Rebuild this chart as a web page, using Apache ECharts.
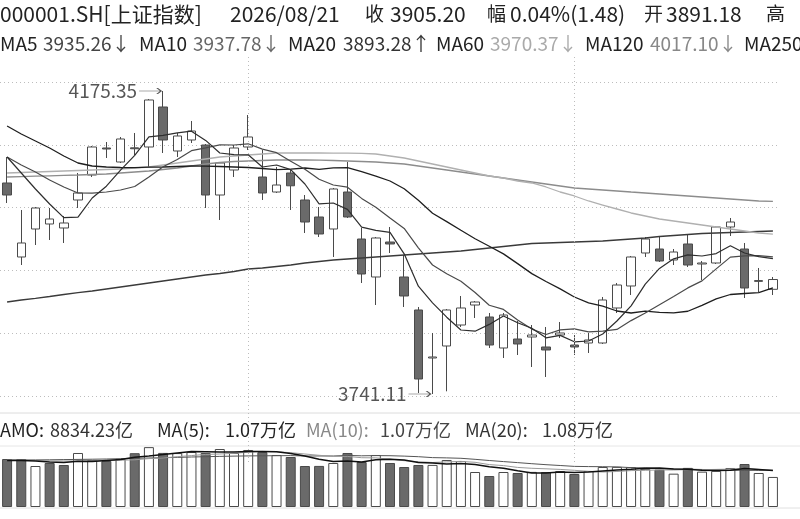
<!DOCTYPE html>
<html>
<head>
<meta charset="utf-8">
<script src="https://cdn.jsdelivr.net/npm/echarts@6/dist/echarts.min.js"></script>
<style>
html,body{margin:0;padding:0;background:#fff;}
#main{width:800px;height:519px;}
</style>
</head>
<body>
<div id="main"></div>
<script>
// 交易日
var dates = ['2026/06/05','2026/06/08','2026/06/09','2026/06/10','2026/06/11','2026/06/12','2026/06/15','2026/06/16','2026/06/17','2026/06/18',
    '2026/06/22','2026/06/23','2026/06/24','2026/06/25','2026/06/26','2026/06/29','2026/06/30','2026/07/01','2026/07/02','2026/07/03',
    '2026/07/06','2026/07/07','2026/07/08','2026/07/09','2026/07/10','2026/07/13','2026/07/14','2026/07/15','2026/07/16','2026/07/17',
    '2026/07/20','2026/07/21','2026/07/22','2026/07/23','2026/07/24','2026/07/27','2026/07/28','2026/07/29','2026/07/30','2026/07/31',
    '2026/08/03','2026/08/04','2026/08/05','2026/08/06','2026/08/07','2026/08/10','2026/08/11','2026/08/12','2026/08/13','2026/08/14',
    '2026/08/17','2026/08/18','2026/08/19','2026/08/20','2026/08/21'];

var opens = [4043.51,3937.47,3977.59,3984.76,3979.03,4019.15,4054.97,4093.67,4073.60,4093.90,
    4095.10,4152.42,4089.37,4105.13,4097.96,4026.31,4062.14,4095.10,4052.11,4030.61,
    4057.84,4019.15,3994.79,3977.59,4030.61,3963.26,3908.81,3958.96,3908.81,3861.52,
    3792.74,3809.93,3840.02,3868.68,3851.49,3807.07,3819.96,3822.83,3808.50,3825.69,
    3811.36,3814.23,3814.23,3864.39,3895.91,3943.20,3948.93,3933.17,3956.10,3927.44,
    3928.87,3980.46,3948.93,3902.50,3891.18];
var closes = [4026.31,3957.53,4007.69,3991.92,3986.19,4029.18,4095.10,4092.23,4106.56,4092.60,
    4162.45,4105.13,4110.86,4118.03,4026.31,4072.17,4093.67,4109.43,4029.18,4040.64,
    4039.50,3987.62,3970.43,4034.91,3994.79,3913.11,3964.70,3956.10,3881.58,3762.64,
    3794.17,3861.52,3864.39,3872.98,3811.36,3854.35,3812.80,3825.69,3804.20,3828.56,
    3808.50,3818.53,3875.85,3897.34,3937.47,3963.26,3931.74,3944.63,3926.00,3928.87,
    3980.46,3987.62,3893.05,3903.72,3905.20];
var lows = [4014.85,3926.00,3954.66,3961.83,3957.53,4007.69,4052.11,4079.34,4072.17,4083.63,
    4066.44,4086.50,4080.77,4100.83,4007.69,3990.49,4052.11,4090.80,4019.15,4029.18,
    4004.82,3971.86,3966.13,3937.47,3993.36,3900.21,3868.68,3943.20,3865.82,3742.58,
    3741.11,3745.00,3837.16,3850.06,3807.07,3792.74,3797.03,3779.84,3765.51,3821.40,
    3797.03,3799.90,3812.80,3857.22,3883.01,3937.47,3930.30,3926.00,3923.14,3904.51,
    3927.44,3967.56,3878.72,3887.31,3883.01];
var highs = [4080.77,4004.82,4009.12,4007.69,3996.22,4057.84,4096.53,4102.26,4109.43,4115.16,
    4163.88,4175.35,4115.16,4132.36,4099.40,4073.60,4097.96,4140.95,4090.80,4066.44,
    4062.14,4026.31,4009.12,4036.35,4073.60,3979.03,3966.13,3980.46,3940.33,3865.82,
    3828.56,3862.95,3881.58,3874.42,3857.22,3857.22,3845.76,3840.02,3837.16,3844.32,
    3825.69,3828.56,3880.15,3900.21,3938.90,3966.13,3966.13,3948.93,3968.99,3931.74,
    3981.20,3993.36,3957.53,3921.71,3908.81];

// 均线
var ma5 = [4080.77,4057.84,4034.91,4013.42,3993.93,3994.50,4022.02,4038.93,4061.85,4083.06,
    4109.72,4111.72,4115.45,4117.74,4104.56,4086.50,4084.21,4083.92,4066.44,4069.30,
    4062.71,4042.08,4013.70,4014.85,4005.68,3980.17,3975.59,3972.72,3942.05,3895.63,
    3871.84,3851.20,3832.86,3831.14,3840.88,3852.92,3843.18,3835.44,3821.68,3825.12,
    3815.95,3817.10,3827.13,3845.76,3867.54,3898.49,3921.13,3934.89,3940.62,3938.90,
    3942.34,3953.52,3943.20,3938.04,3935.26];
var ma10 = [4080.77,4069.30,4059.27,4047.81,4037.78,4029.18,4029.00,4030.61,4033.48,4038.50,
    4052.11,4066.87,4077.19,4089.80,4093.81,4098.11,4097.96,4099.68,4092.09,4086.93,
    4074.61,4063.14,4048.81,4040.64,4037.49,4021.44,4008.83,3993.21,3978.45,3950.65,
    3926.00,3913.39,3902.79,3886.60,3868.26,3862.38,3847.19,3834.15,3826.41,3833.00,
    3834.44,3830.14,3831.28,3833.72,3846.33,3857.22,3869.11,3881.01,3893.19,3903.22,
    3920.42,3937.33,3939.05,3939.33,3937.78];
var ma20 = [4125.19,4113.73,4103.70,4093.67,4082.20,4072.17,4067.87,4066.44,4065.72,4065.50,
    4066.30,4066.44,4067.16,4067.87,4067.60,4067.16,4066.44,4065.72,4064.29,4062.71,
    4063.29,4065.01,4063.00,4065.15,4065.58,4059.70,4053.40,4046.38,4035.20,4018.72,
    4000.23,3988.20,3975.73,3963.55,3952.80,3941.91,3928.01,3913.68,3902.36,3891.76,
    3880.15,3871.69,3866.97,3860.09,3857.22,3859.80,3858.08,3857.51,3859.70,3868.11,
    3877.43,3883.73,3885.16,3886.45,3893.28];
var ma60 = [4057.84,4058.56,4059.27,4059.99,4060.71,4061.42,4062.14,4062.86,4063.57,4065.01,
    4066.44,4069.30,4072.17,4075.04,4077.90,4080.77,4082.20,4083.63,4085.07,4086.50,
    4086.50,4086.60,4086.50,4086.40,4086.30,4086.10,4085.07,4082.20,4079.34,4075.04,
    4070.74,4066.44,4062.14,4057.84,4053.54,4050.68,4046.38,4043.51,4037.78,4030.61,
    4024.88,4017.72,4011.98,4006.25,4000.52,3996.22,3991.92,3989.06,3986.19,3983.32,
    3980.46,3977.59,3974.73,3971.86,3970.37];
var ma120 = [4052.11,4052.68,4053.26,4053.83,4054.40,4054.97,4055.69,4056.41,4057.84,4059.27,
    4060.71,4062.86,4065.01,4067.87,4070.74,4072.89,4074.32,4075.04,4075.75,4076.47,
    4076.47,4076.50,4076.40,4075.75,4075.04,4074.32,4073.60,4072.17,4070.74,4067.87,
    4065.01,4062.14,4059.27,4056.41,4053.54,4050.68,4047.81,4044.94,4042.08,4039.21,
    4036.35,4034.91,4033.48,4032.05,4030.61,4029.18,4027.75,4026.31,4024.88,4023.45,
    4022.02,4020.58,4019.15,4017.72,4017.10];
var ma250 = [3872.98,3875.85,3878.29,3880.87,3883.73,3886.31,3888.75,3891.61,3894.48,3897.34,
    3900.21,3903.08,3905.94,3908.81,3911.67,3913.82,3916.69,3920.27,3921.71,3923.86,
    3926.00,3928.87,3931.02,3933.17,3934.60,3936.04,3937.47,3938.90,3940.33,3941.77,
    3943.20,3944.63,3946.07,3948.22,3950.37,3952.52,3954.66,3956.81,3957.53,3958.25,
    3958.96,3959.68,3960.40,3961.83,3963.26,3964.70,3966.85,3968.28,3969.71,3971.14,
    3971.86,3972.58,3973.29,3974.01,3974.73];

// 成交额(亿)
var amo = [14110,14080,12050,12940,12350,15880,13820,13520,14150,15820,
    17600,15900,15850,16170,15880,17050,15870,16760,16170,15290,
    14700,12050,12080,12940,15880,13230,15290,12940,11760,12350,
    12380,13820,13520,10290,9110,10290,10000,10320,10260,10580,
    9700,10600,11760,11800,11720,11200,11000,9800,11500,10400,
    10620,11470,12640,10000,8834.23];
var amoMa5 = [13670,13650,13520,13230,13110,13470,13410,13700,13940,14640,
    14990,15410,15880,16290,16280,16170,16160,16350,16340,16230,
    15760,14990,14050,13410,13520,13230,13880,14050,13820,13110,
    12940,12640,12760,12470,11820,11410,10640,10000,9990,10290,
    10170,10280,10580,10880,11110,11410,11500,11140,11080,10820,
    10700,10790,11320,11030,10710];
var amoMa10 = [13820,13760,13670,13580,13520,13530,13580,13670,13760,13880,
    14230,14410,14790,15110,15460,15580,15790,16110,16320,16260,
    15960,15580,15200,14880,14870,14490,14440,14050,13610,13320,
    13080,13260,13410,13140,12470,12170,11640,11380,11230,11050,
    10790,10470,10290,10440,10700,10790,10910,10880,11000,10970,
    11050,11140,11230,11050,10730];
var amoMa20 = [13820,13830,13840,13880,13940,13990,14050,14110,14200,14290,
    14410,14490,14580,14700,14790,14880,14960,15020,15050,15080,
    15110,14990,15000,14990,15170,15050,15110,15080,14960,14790,
    14520,14440,14320,14020,13670,13350,13050,12730,12440,12200,
    11940,11880,11850,11790,11580,11500,11290,11140,11110,11030,
    10940,10820,10760,10770,10800];

var monthStarts = ['2026/07/01','2026/08/03'];

var FONT = '"Noto Sans CJK SC","Noto Sans",sans-serif';

function arrow(list){
    var n = list.length;
    return list[n-1] >= list[n-2] ? '↑' : '↓';
}

function txt(x, y, s, color, size){
    return {type:'text', x:x, y:y, z:100,
        style:{text:s, fill:color, font:size + 'px ' + FONT, verticalAlign:'middle'}};
}

var n = closes.length;
var lastClose = closes[n-1], prevClose = closes[n-2];
var chg = lastClose - prevClose;
var pct = chg / prevClose * 100;

var header = [
    txt(0, 14, '000001.SH[上证指数]', '#222', 21),
    txt(230, 14, dates[n-1], '#222', 21),
    txt(365, 14, '收', '#222', 19),
    txt(390, 14, lastClose.toFixed(2), '#222', 21),
    txt(487, 14, '幅', '#222', 19),
    txt(510, 14, pct.toFixed(2) + '%(' + chg.toFixed(2) + ')', '#222', 21),
    txt(644, 14, '开', '#222', 19),
    txt(666, 14, opens[n-1].toFixed(2), '#222', 21),
    txt(766, 14, '高', '#222', 19),
    txt(806, 14, highs[n-1].toFixed(2), '#222', 21),

    txt(0, 44, 'MA5', '#222', 19),
    txt(43, 44, ma5[n-1].toFixed(2) + arrow(ma5), '#444', 19),
    txt(139, 44, 'MA10', '#222', 19),
    txt(193, 44, ma10[n-1].toFixed(2) + arrow(ma10), '#666', 19),
    txt(288, 44, 'MA20', '#222', 19),
    txt(343, 44, ma20[n-1].toFixed(2) + arrow(ma20), '#333', 19),
    txt(436, 44, 'MA60', '#222', 19),
    txt(490, 44, ma60[n-1].toFixed(2) + arrow(ma60), '#aaa', 19),
    txt(585, 44, 'MA120', '#222', 19),
    txt(650, 44, ma120[n-1].toFixed(2) + arrow(ma120), '#888', 19),
    txt(744, 44, 'MA250', '#222', 19),
    txt(810, 44, ma250[n-1].toFixed(2) + arrow(ma250), '#444', 19),

    txt(0, 430, 'AMO:', '#222', 18),
    txt(50, 430, amo[n-1].toFixed(2) + '亿', '#333', 18),
    txt(157, 430, 'MA(5):', '#222', 18),
    txt(225, 430, (amoMa5[n-1] / 10000).toFixed(2) + '万亿', '#222', 18),
    txt(306, 430, 'MA(10):', '#888', 18),
    txt(380, 430, (amoMa10[n-1] / 10000).toFixed(2) + '万亿', '#444', 18),
    txt(465, 430, 'MA(20):', '#333', 18),
    txt(542, 430, (amoMa20[n-1] / 10000).toFixed(2) + '万亿', '#333', 18),

    {type:'line', shape:{x1:0, y1:413, x2:800, y2:413}, style:{stroke:'#dcdcdc', lineWidth:1}},
    {type:'line', shape:{x1:0, y1:446, x2:800, y2:446}, style:{stroke:'#e6e6e6', lineWidth:1}},
    {type:'line', shape:{x1:0, y1:508, x2:800, y2:508}, style:{stroke:'#e0e0e0', lineWidth:1}}
];

var kData = dates.map(function(d, i){ return [opens[i], closes[i], lows[i], highs[i]]; });

var volData = amo.map(function(v, i){
    var ref = i === 0 ? opens[0] : closes[i-1];
    var up = closes[i] >= ref;
    return {value: v, itemStyle: up
        ? {color:'#fff', borderColor:'#4a4a4a', borderWidth:1}
        : {color:'#6a6a6a', borderColor:'#4a4a4a', borderWidth:1}};
});

var hiIdx = highs.indexOf(Math.max.apply(null, highs));
var loIdx = lows.indexOf(Math.min.apply(null, lows));

var arrowPath = 'path://M0,3 L22,3 M18,0 L22,3 L18,6';

function maLine(name, data, color, width){
    return {name:name, type:'line', xAxisIndex:0, yAxisIndex:0, data:data,
        symbol:'none', smooth:false, silent:true,
        lineStyle:{color:color, width:width || 1.2}, z:3};
}
function volLine(name, data, color, width){
    return {name:name, type:'line', xAxisIndex:1, yAxisIndex:2, data:data,
        symbol:'none', silent:true,
        lineStyle:{color:color, width:width || 1}, z:3};
}

var myChart = echarts.init(document.getElementById('main'));
var option = {
    animation: false,
    backgroundColor: '#fff',
    graphic: header,
    grid: [
        {left:0, width:780, top:82, height:314},
        {left:0, width:780, top:447, height:60},
        {left:0, width:780, top:57, height:405}
    ],
    xAxis: [
        {type:'category', gridIndex:0, data:dates, boundaryGap:true, show:false},
        {type:'category', gridIndex:1, data:dates, boundaryGap:true, show:false},
        {type:'category', gridIndex:2, data:dates, boundaryGap:true, show:false}
    ],
    yAxis: [
        {type:'value', gridIndex:0, min:3738.28, max:4188.24, show:false, splitLine:{show:false}},
        {type:'value', gridIndex:0, min:0, max:5, interval:1,
            axisLine:{show:false}, axisTick:{show:false}, axisLabel:{show:false},
            splitLine:{show:true, lineStyle:{color:'#bdbdbd', width:1, type:[1,3]}}},
        {type:'value', gridIndex:1, min:0, max:17640, show:false, splitLine:{show:false}},
        {type:'value', gridIndex:2, min:0, max:1, show:false, splitLine:{show:false}}
    ],
    series: [
        {
            name:'月分隔', type:'line', xAxisIndex:2, yAxisIndex:3,
            data: dates.map(function(){ return '-'; }),
            symbol:'none', silent:true, z:0,
            markLine:{
                silent:true, symbol:'none', label:{show:false},
                lineStyle:{color:'#bdbdbd', width:1, type:[1,3]},
                data: monthStarts.map(function(d){ return {xAxis:d}; })
            }
        },
        {
            name:'K线', type:'candlestick', xAxisIndex:0, yAxisIndex:0,
            data:kData, barWidth:9, z:2,
            itemStyle:{color:'#fff', color0:'#6a6a6a', borderColor:'#4a4a4a', borderColor0:'#4a4a4a', borderWidth:1},
            markPoint:{
                silent:true,
                symbol:arrowPath,
                symbolSize:[22,6],
                itemStyle:{color:'rgba(0,0,0,0)', borderColor:'#555', borderWidth:1},
                label:{show:true, position:'left', distance:1, color:'#555',
                    fontSize:19, fontFamily:FONT,
                    formatter:function(p){ return p.value.toFixed(2); }},
                data:[
                    {coord:[dates[hiIdx], highs[hiIdx]], value:highs[hiIdx], symbolOffset:[-13, 0]},
                    {coord:[dates[loIdx], lows[loIdx]], value:lows[loIdx], symbolOffset:[-13, 0]}
                ]
            }
        },
        maLine('MA250', ma250, '#3a3a3a', 1.3),
        maLine('MA120', ma120, '#8c8c8c', 1.3),
        maLine('MA60', ma60, '#b0b0b0', 1.3),
        maLine('MA20', ma20, '#1e1e1e', 1.3),
        maLine('MA10', ma10, '#4a4a4a', 1.2),
        maLine('MA5', ma5, '#2e2e2e', 1.2),
        {
            name:'AMO', type:'bar', xAxisIndex:1, yAxisIndex:2,
            data:volData, barWidth:10, z:2
        },
        volLine('AMO MA20', amoMa20, '#555', 1),
        volLine('AMO MA10', amoMa10, '#9a9a9a', 1),
        volLine('AMO MA5', amoMa5, '#111', 1.5)
    ]
};
myChart.setOption(option);
</script>
</body>
</html>
